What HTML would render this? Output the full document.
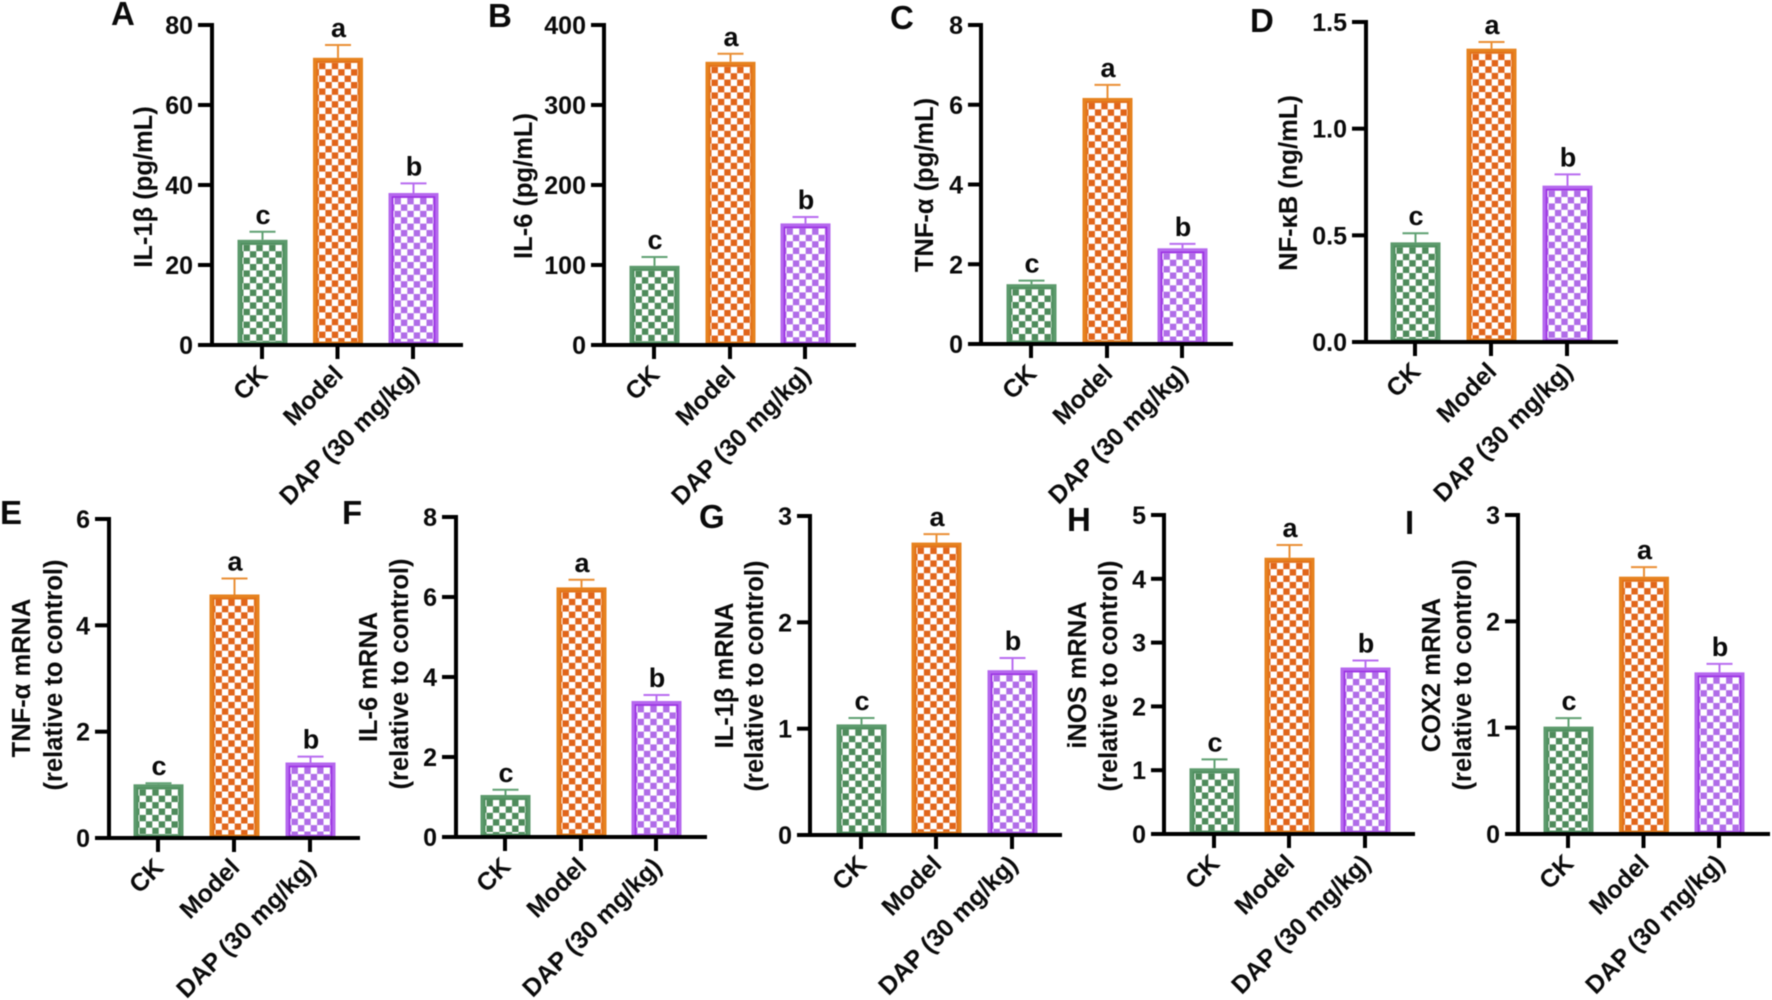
<!DOCTYPE html>
<html lang="en">
<head>
<meta charset="utf-8">
<title>Inflammatory markers bar charts</title>
<style>
  html, body { margin: 0; padding: 0; background: #fff; }
  svg { display: block; font-family: "Liberation Sans", Arial, sans-serif; font-weight: bold; filter: blur(0.4px); }
  text { fill: #0a0a0a; }
</style>
</head>
<body>
<svg id="figure" width="1772" height="1000" viewBox="0 0 1772 1000" xmlns="http://www.w3.org/2000/svg">
  <defs id="defs"></defs>
</svg>
<script>
// ---- Data ----
const categories = ['CK', 'Model', 'DAP (30 mg/kg)'];
const significance = ['c', 'a', 'b'];

const valuesA = [26.3, 71.8, 38.0];
const errorTopsA = [28.3, 75.0, 40.4];
const ticksA = ['0', '20', '40', '60', '80'];

const valuesB = [99, 354, 152];
const errorTopsB = [110, 364, 160];
const ticksB = ['0', '100', '200', '300', '400'];

const valuesC = [1.5, 6.17, 2.4];
const errorTopsC = [1.59, 6.5, 2.51];
const ticksC = ['0', '2', '4', '6', '8'];

const valuesD = [0.467, 1.375, 0.733];
const errorTopsD = [0.51, 1.406, 0.786];
const ticksD = ['0.0', '0.5', '1.0', '1.5'];

const valuesE = [1.01, 4.58, 1.42];
const errorTopsE = [1.03, 4.88, 1.53];
const ticksE = ['0', '2', '4', '6'];

const valuesF = [1.05, 6.24, 3.4];
const errorTopsF = [1.18, 6.43, 3.55];
const ticksF = ['0', '2', '4', '6', '8'];

const valuesG = [1.04, 2.75, 1.55];
const errorTopsG = [1.10, 2.83, 1.665];
const ticksG = ['0', '1', '2', '3'];

const valuesH = [1.03, 4.33, 2.61];
const errorTopsH = [1.17, 4.53, 2.72];
const ticksH = ['0', '1', '2', '3', '4', '5'];

const valuesI = [1.01, 2.42, 1.52];
const errorTopsI = [1.09, 2.51, 1.6];
const ticksI = ['0', '1', '2', '3'];

const titlesA = ['IL-1β (pg/mL)'];
const titlesB = ['IL-6 (pg/mL)'];
const titlesC = ['TNF-α (pg/mL)'];
const titlesD = ['NF-κB (ng/mL)'];
const titlesE = ['TNF-α mRNA', '(relative to control)'];
const titlesF = ['IL-6 mRNA', '(relative to control)'];
const titlesG = ['IL-1β mRNA', '(relative to control)'];
const titlesH = ['iNOS mRNA', '(relative to control)'];
const titlesI = ['COX2 mRNA', '(relative to control)'];

// ---- Styling and layout ----
const palette = [
  { name: 'green', stroke: '#5c9a6c', inner: '#4f8f5f', fill: '#4e8b5b', err: '#5fa072' },
  { name: 'orange', stroke: '#e6821f', inner: '#e2701a', fill: '#e1651a', err: '#ea8f35' },
  { name: 'purple', stroke: '#b568ee', inner: '#9b30e2', fill: '#b06ce8', err: '#b86cf0' }
];

const panels = [
  { id: 'A', v: valuesA, e: errorTopsA, t: ticksA, title: titlesA, ax: 212, top: 25, bot: 345, left: 198, right: 463, cx: [262, 337.5, 413], lx: 111, ly: 25, tb: [152], ty: [187] },
  { id: 'B', v: valuesB, e: errorTopsB, t: ticksB, title: titlesB, ax: 604, top: 25, bot: 345, left: 591, right: 856, cx: [654, 730, 805], lx: 488, ly: 27, tb: [532], ty: [186] },
  { id: 'C', v: valuesC, e: errorTopsC, t: ticksC, title: titlesC, ax: 981, top: 25, bot: 344, left: 968, right: 1233, cx: [1031, 1107, 1182], lx: 890, ly: 29, tb: [933], ty: [185] },
  { id: 'D', v: valuesD, e: errorTopsD, t: ticksD, title: titlesD, ax: 1366, top: 22, bot: 342, left: 1352, right: 1618, cx: [1415, 1491, 1567], lx: 1250, ly: 32, tb: [1297], ty: [183] },
  { id: 'E', v: valuesE, e: errorTopsE, t: ticksE, title: titlesE, ax: 109, top: 519, bot: 838, left: 95, right: 360, cx: [158, 234, 310], lx: 0, ly: 524, tb: [30, 62], ty: [678, 675] },
  { id: 'F', v: valuesF, e: errorTopsF, t: ticksF, title: titlesF, ax: 456, top: 517, bot: 837, left: 442, right: 707, cx: [505, 581, 656], lx: 342, ly: 524, tb: [377, 408], ty: [677, 674] },
  { id: 'G', v: valuesG, e: errorTopsG, t: ticksG, title: titlesG, ax: 810, top: 516, bot: 835, left: 797, right: 1062, cx: [861, 936, 1012], lx: 699, ly: 528, tb: [733, 763], ty: [675.5, 676] },
  { id: 'H', v: valuesH, e: errorTopsH, t: ticksH, title: titlesH, ax: 1164, top: 515, bot: 834, left: 1151, right: 1415, cx: [1214, 1289, 1365], lx: 1067, ly: 531, tb: [1086, 1117], ty: [675, 676] },
  { id: 'I', v: valuesI, e: errorTopsI, t: ticksI, title: titlesI, ax: 1518, top: 515, bot: 834, left: 1505, right: 1770, cx: [1568, 1643.5, 1719], lx: 1405, ly: 534, tb: [1440, 1471], ty: [675, 675] }
];

const NS = 'http://www.w3.org/2000/svg';
const svg = document.getElementById('figure');
const defs = document.getElementById('defs');
const BAR_W = 50, STROKE = 5, CELL = 6.4, CAP = 13;

function mk(parent, tag, attrs, text) {
  const el = document.createElementNS(NS, tag);
  for (const k in attrs) el.setAttribute(k, attrs[k]);
  if (text !== undefined) el.textContent = text;
  parent.appendChild(el);
  return el;
}

panels.forEach(function (p) {
  const key = p.id.toLowerCase();
  const g = mk(svg, 'g', {});
  
  

  const yMax = parseFloat(p.t[p.t.length - 1]);
  const yScale = function (val) { return p.bot - (val / yMax) * (p.bot - p.top); };

  // panel letter
  const letter = mk(g, 'text', { x: p.lx, y: p.ly, 'font-size': 33 }, p.id);
  
  

  // y axis title lines
  p.title.forEach(function (line, i) {
    const t = mk(g, 'text', {
      transform: 'translate(' + p.tb[i] + ',' + p.ty[i] + ') rotate(-90)',
      'text-anchor': 'middle', 'font-size': 25.5
    }, line);
    
    
  });

  // bars, error bars and significance letters
  categories.forEach(function (cat, i) {
    const c = palette[i];
    const cx = p.cx[i] + 0.5;
    const yTop = yScale(p.v[i]);
    const yErr = yScale(p.e[i]);
    const x0 = cx - BAR_W / 2;

    const pid = 'check-' + key + '-' + i;
    const pat = mk(defs, 'pattern', {
      id: pid, patternUnits: 'userSpaceOnUse', width: CELL * 2, height: CELL * 2,
      x: x0 + STROKE + 1, y: yTop + STROKE
    });
    mk(pat, 'rect', { width: CELL * 2, height: CELL * 2, fill: '#fff' });
    mk(pat, 'rect', { width: CELL, height: CELL, fill: c.fill });
    mk(pat, 'rect', { x: CELL, y: CELL, width: CELL, height: CELL, fill: c.fill });

    const stem = mk(g, 'line', { x1: cx, x2: cx, y1: yTop, y2: yErr, stroke: c.err, 'stroke-width': 2 });
    
    
    const cap = mk(g, 'line', { x1: cx - CAP, x2: cx + CAP, y1: yErr, y2: yErr, stroke: c.err, 'stroke-width': 2 });
    
    

    const barHeight = Math.max(0, p.bot - 1 - (yTop + STROKE / 2));
    const bar = mk(g, 'rect', {
      x: x0 + STROKE / 2, y: yTop + STROKE / 2,
      width: BAR_W - STROKE, height: barHeight,
      fill: 'url(#' + pid + ')', stroke: c.stroke, 'stroke-width': STROKE
    });
    
    

    const inner = mk(g, 'rect', {
      x: x0 + STROKE - 1, y: yTop + STROKE - 1,
      width: BAR_W - 2 * STROKE + 2, height: Math.max(0, barHeight - 2),
      fill: 'none', stroke: c.inner, 'stroke-width': 1.5
    });
    
    

    const sig = mk(g, 'text', { x: cx + 0.5, y: yErr - 8, 'text-anchor': 'middle', 'font-size': 27 }, significance[i]);
    
    
  });

  // y axis
  const yAxis = mk(g, 'line', { x1: p.ax, x2: p.ax, y1: p.top - 2, y2: p.bot + 2, stroke: '#000', 'stroke-width': 4 });
  
  

  p.t.forEach(function (lab) {
    const y = yScale(parseFloat(lab));
    const tk = mk(g, 'line', { x1: p.left, x2: p.ax, y1: y, y2: y, stroke: '#000', 'stroke-width': 4 });
    
    
    const tl = mk(g, 'text', { x: p.left - 5, y: y + 9, 'text-anchor': 'end', 'font-size': 25 }, lab);
    
    
  });

  // x axis
  const xAxis = mk(g, 'line', { x1: p.left, x2: p.right, y1: p.bot, y2: p.bot, stroke: '#000', 'stroke-width': 4 });
  
  

  categories.forEach(function (cat, i) {
    const cx = p.cx[i];
    const tk = mk(g, 'line', { x1: cx, x2: cx, y1: p.bot, y2: p.bot + 14, stroke: '#000', 'stroke-width': 4 });
    
    
    const tl = mk(g, 'text', {
      transform: 'translate(' + (cx + 7) + ',' + (p.bot + 31) + ') rotate(-45)',
      'text-anchor': 'end', 'font-size': 25
    }, cat);
    
    
  });
});
</script>
</body>
</html>
